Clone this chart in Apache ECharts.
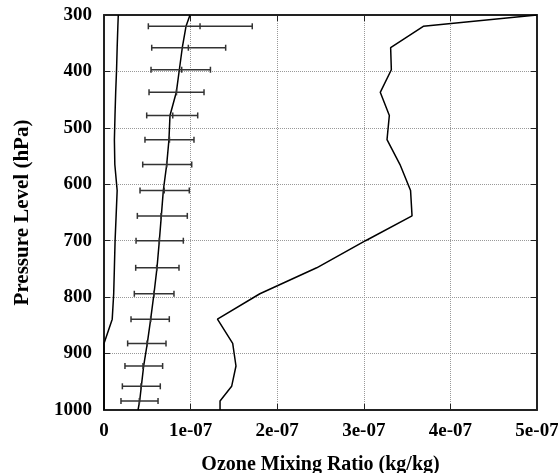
<!DOCTYPE html>
<html>
<head>
<meta charset="utf-8">
<script src="https://cdn.jsdelivr.net/npm/echarts@6/dist/echarts.min.js"></script>
<style>
html,body{margin:0;padding:0;background:#fff;}
#chart{width:558px;height:473px;}
</style>
</head>
<body>
<div id="chart"></div>
<script>
// Pressure levels (hPa)
const levels = [300,320,358,397,437,478,521,565,611,656,700,748,794,839,882,922,958,984,1000];
// Left profile (kg/kg)
const leftProfile = [1.65e-8,1.60e-8,1.52e-8,1.45e-8,1.35e-8,1.27e-8,1.20e-8,1.25e-8,1.52e-8,1.40e-8,1.28e-8,1.20e-8,1.12e-8,0.95e-8,0,0,0,0,0];
// Middle profile (kg/kg)
const middleProfile = [9.93e-8,9.47e-8,9.04e-8,8.70e-8,8.35e-8,7.62e-8,7.50e-8,7.24e-8,6.85e-8,6.62e-8,6.39e-8,6.12e-8,5.77e-8,5.39e-8,5.00e-8,4.58e-8,4.31e-8,4.12e-8,3.93e-8];
// Right profile (kg/kg)
const rightProfile = [5.00e-7,3.687e-7,3.31e-7,3.318e-7,3.19e-7,3.295e-7,3.268e-7,3.418e-7,3.54e-7,3.557e-7,3.02e-7,2.456e-7,1.80e-7,1.31e-7,1.486e-7,1.524e-7,1.474e-7,1.34e-7,1.34e-7];
// Error bars: levels, mean, low, high (kg/kg)
const barLevels = [320,358,397,437,478,521,565,611,656,700,748,794,839,882,922,958,984];
const barMean = [1.109e-7,9.74e-8,8.97e-8,8.37e-8,7.94e-8,7.56e-8,7.24e-8,6.96e-8,6.58e-8,6.39e-8,6.08e-8,5.77e-8,5.39e-8,4.97e-8,4.50e-8,4.27e-8,4.08e-8];
const barLow = [5.12e-8,5.51e-8,5.43e-8,5.20e-8,4.93e-8,4.73e-8,4.47e-8,4.16e-8,3.85e-8,3.70e-8,3.66e-8,3.50e-8,3.12e-8,2.73e-8,2.42e-8,2.12e-8,1.96e-8];
const barHigh = [1.712e-7,1.405e-7,1.229e-7,1.155e-7,1.082e-7,1.039e-7,1.013e-7,9.85e-8,9.62e-8,9.16e-8,8.66e-8,8.08e-8,7.54e-8,7.16e-8,6.77e-8,6.50e-8,6.24e-8];
// Axis settings
const xTickStep = 1e-7;
const xMax = 5e-7;
const yMin = 300, yMax = 1000, yStep = 100;

const chart = echarts.init(document.getElementById('chart'), null, {renderer:'canvas'});
const font = 'Liberation Serif, Times New Roman, serif';
const axisColor = '#222';

function xfmt(v){
  const n = Math.round(v / xTickStep);
  return n === 0 ? '0' : n + 'e-07';
}
function yfmt(v){ return String(Math.round(v)); }

const lineStyleCommon = {color:'#000', width:1.5};

const option = {
  animation:false,
  backgroundColor:'#fff',
  grid:{left:104, right:21, top:15, bottom:63, containLabel:false, outerBoundsMode:'none'},
  xAxis:[{
    type:'value', min:0, max:xMax, interval:xTickStep,
    position:'bottom',
    axisLine:{show:true, onZero:false, lineStyle:{color:axisColor, width:2}},
    axisTick:{show:true, inside:true, length:6, lineStyle:{color:axisColor, width:1}},
    axisLabel:{formatter:xfmt, fontFamily:font, fontWeight:'bold', fontSize:19, color:'#000', margin:12, hideOverlap:false},
    splitLine:{show:true, lineStyle:{type:'dotted', color:'#999', width:1}},
    name:'Ozone Mixing Ratio (kg/kg)', nameLocation:'middle', nameGap:45,
    nameTextStyle:{fontFamily:font, fontWeight:'bold', fontSize:20, color:'#000'}
  },{
    type:'value', min:0, max:xMax, interval:xTickStep,
    position:'top',
    axisLine:{show:true, onZero:false, lineStyle:{color:axisColor, width:2}},
    axisTick:{show:true, inside:true, length:6, lineStyle:{color:axisColor, width:1}},
    axisLabel:{show:false},
    splitLine:{show:false}
  }],
  yAxis:[{
    type:'value', inverse:true, min:yMin, max:yMax, interval:yStep,
    position:'left',
    axisLine:{show:true, onZero:false, lineStyle:{color:axisColor, width:2}},
    axisTick:{show:true, inside:true, length:6, lineStyle:{color:axisColor, width:1}},
    axisLabel:{formatter:yfmt, fontFamily:font, fontWeight:'bold', fontSize:19, color:'#000', margin:12},
    splitLine:{show:true, lineStyle:{type:'dotted', color:'#999', width:1}},
    name:'Pressure Level (hPa)', nameLocation:'middle', nameGap:71, nameRotate:90,
    nameTextStyle:{fontFamily:font, fontWeight:'bold', fontSize:21, color:'#000'}
  },{
    type:'value', inverse:true, min:yMin, max:yMax, interval:yStep,
    position:'right',
    axisLine:{show:true, onZero:false, lineStyle:{color:axisColor, width:2}},
    axisTick:{show:true, inside:true, length:6, lineStyle:{color:axisColor, width:1}},
    axisLabel:{show:false},
    splitLine:{show:false}
  }],
  series:[
    {type:'line', xAxisIndex:0, yAxisIndex:0, showSymbol:false, symbol:'none',
     data:levels.map((p,i)=>[leftProfile[i], p]), lineStyle:lineStyleCommon, z:3},
    {type:'line', xAxisIndex:0, yAxisIndex:0, showSymbol:false, symbol:'none',
     data:levels.map((p,i)=>[middleProfile[i], p]), lineStyle:lineStyleCommon, z:3},
    {type:'line', xAxisIndex:0, yAxisIndex:0, showSymbol:false, symbol:'none',
     data:levels.map((p,i)=>[rightProfile[i], p]), lineStyle:lineStyleCommon, z:3},
    {type:'custom', xAxisIndex:0, yAxisIndex:0, z:4,
     data:barLevels.map((p,i)=>[barLow[i], barHigh[i], barMean[i], p]),
     encode:{x:[0,1,2], y:3},
     renderItem:function(params, api){
       const p = api.value(3);
       const lo = api.coord([api.value(0), p]);
       const hi = api.coord([api.value(1), p]);
       const m = api.coord([api.value(2), p]);
       const h = 3;
       const st = {stroke:'#333', lineWidth:1.5};
       return {type:'group', children:[
         {type:'line', shape:{x1:lo[0], y1:lo[1], x2:hi[0], y2:hi[1]}, style:st},
         {type:'line', shape:{x1:lo[0], y1:lo[1]-h, x2:lo[0], y2:lo[1]+h}, style:st},
         {type:'line', shape:{x1:hi[0], y1:hi[1]-h, x2:hi[0], y2:hi[1]+h}, style:st},
         {type:'line', shape:{x1:m[0], y1:m[1]-h, x2:m[0], y2:m[1]+h}, style:st}
       ]};
     }}
  ]
};
chart.setOption(option);
</script>
</body>
</html>
